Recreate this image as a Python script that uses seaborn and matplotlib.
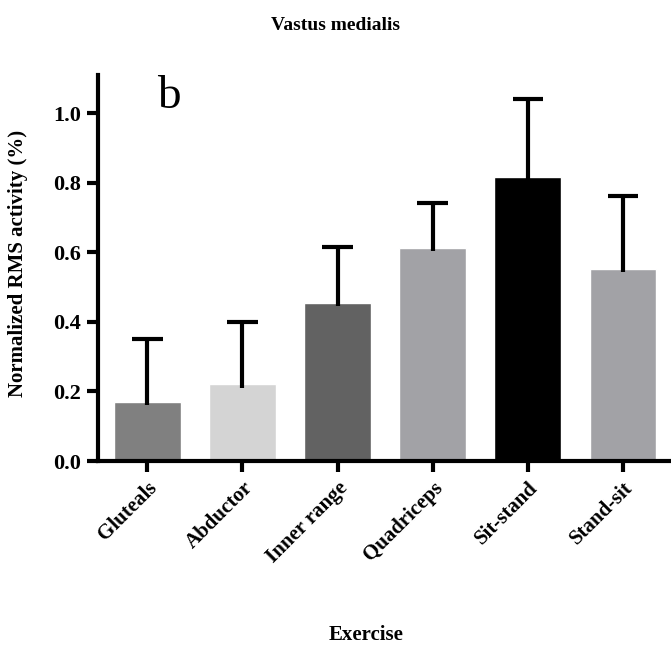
import numpy as np
import pandas as pd
import seaborn as sns
import matplotlib.pyplot as plt

exercises = ["Gluteals", "Abductor", "Inner range", "Quadriceps", "Sit-stand", "Stand-sit"]
mean_rms = [0.17, 0.22, 0.455, 0.613, 0.816, 0.552]
sd_rms = [0.18, 0.18, 0.16, 0.13, 0.225, 0.21]
bar_colors = ["#808080", "#d4d4d4", "#626262", "#a2a2a6", "#000000", "#a2a2a6"]

sns.set_theme(style="ticks")
plt.rcParams['font.family'] = ['Liberation Serif', 'DejaVu Serif']
plt.rcParams['font.weight'] = 'bold'
plt.rcParams['text.color'] = 'black'
plt.rcParams['axes.labelcolor'] = 'black'
plt.rcParams['axes.edgecolor'] = 'black'

df = pd.DataFrame({"Exercise": exercises, "RMS": mean_rms, "SD": sd_rms})

fig = plt.figure(figsize=(6.71, 6.60), dpi=100)
ax = fig.add_axes([0.146, 0.3015, 0.853, 0.585])

sns.barplot(data=df, x="Exercise", y="RMS", hue="Exercise", palette=bar_colors,
            errorbar=None, width=0.7, saturation=1, legend=False, ax=ax)

# upper error bars only
xs = np.arange(len(exercises))
tops = df["RMS"] + df["SD"]
ax.vlines(xs, df["RMS"] - 0.01, tops, color="black", linewidth=3)
ax.hlines(tops, xs - 0.16, xs + 0.16, color="black", linewidth=3)

ax.set_xlim(-0.52, 5.5)
ax.set_ylim(0, 1.11)
ax.set_yticks([0.0, 0.2, 0.4, 0.6, 0.8, 1.0])
ax.set_yticklabels([f"{t:.1f}" for t in [0.0, 0.2, 0.4, 0.6, 0.8, 1.0]], fontsize=16, fontweight="bold")
ax.set_xticks(xs)
ax.set_xticklabels(exercises, rotation=45, ha="right", rotation_mode="anchor",
                   fontsize=15, fontweight="bold")

sns.despine(ax=ax)
for side in ["left", "bottom"]:
    ax.spines[side].set_linewidth(3)
    ax.spines[side].set_color("black")
ax.tick_params(axis="both", width=3, length=8, direction="out", colors="black", pad=4)

ax.set_ylabel("Normalized RMS activity (%)", fontsize=15, fontweight="bold")
ax.yaxis.set_label_coords(-0.122, 0.513)
ax.set_xlabel("Exercise", fontsize=15, fontweight="bold")
ax.xaxis.set_label_coords(0.469, -0.425)

fig.suptitle("Vastus medialis", x=0.5, y=0.975, fontsize=14, fontweight="bold")
ax.text(0.103, 0.915, "b", transform=ax.transAxes, fontsize=34, fontweight="normal",
        va="baseline", ha="left")

fig.savefig("out.png", dpi=100)
